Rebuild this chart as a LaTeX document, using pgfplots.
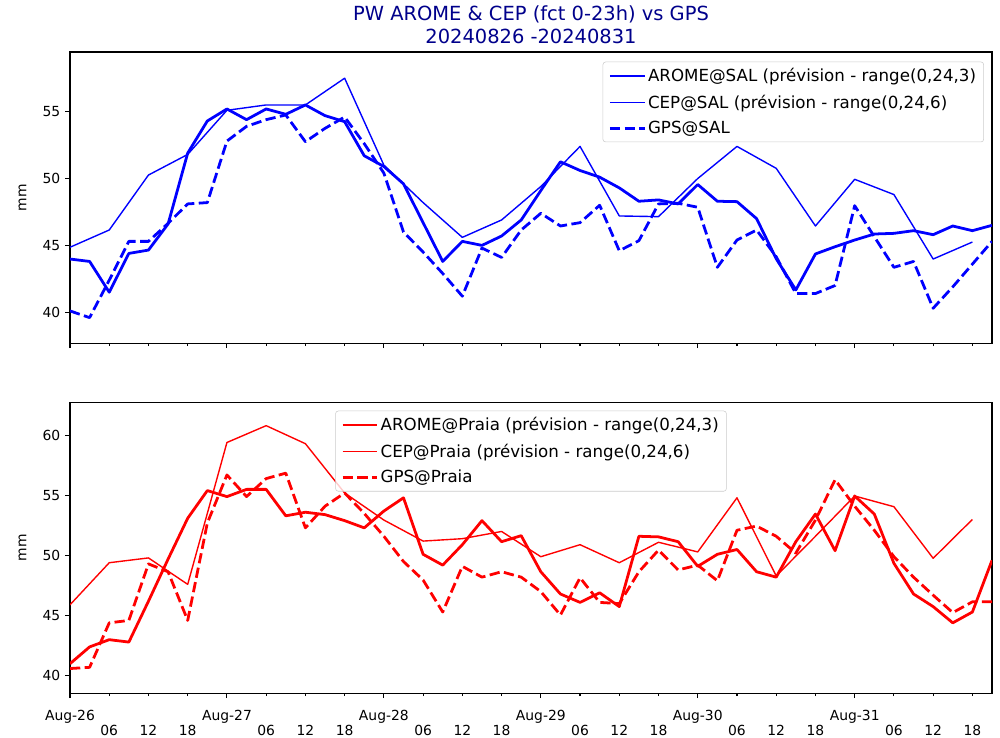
\documentclass[border=0pt]{standalone}
\usepackage{fontspec}
\setmainfont{DejaVu Sans}
\usepackage{pgfplots}
\pgfplotsset{compat=1.18}
\definecolor{titleblue}{RGB}{0,0,139}
\pgfplotsset{
  mpl/.style={
    scale only axis, width=663.84pt,
    xmin=0, xmax=141,
    axis line style={line width=0.8pt},
    tick align=outside, xtick pos=bottom, ytick pos=left,
    every tick/.style={black, line width=0.8pt},
    major tick length=3.5pt,
    /pgf/number format/assume math mode=true,
    tick label style={font=\fontsize{10}{12}\selectfont},
    xtick={0,24,48,72,96,120},
    extra x ticks={6,12,18,30,36,42,54,60,66,78,84,90,102,108,114,126,132,138},
    extra x tick style={major tick length=2pt},
    ylabel={mm},
    ylabel style={at={(axis description cs:-0.0515,0.5)}, anchor=center, font=\fontsize{10}{12}\selectfont},
    legend cell align=left,
    legend style={draw=black!20, rounded corners=2pt, fill=white, fill opacity=0.8, text opacity=1,
      font=\fontsize{12}{14}\selectfont, inner xsep=4pt, inner ysep=3pt, row sep=5pt, nodes={inner sep=1.5pt}},
    legend image code/.code={\draw[#1] (0pt,0pt) -- (25pt,0pt);},
  },
  arome/.style={line width=2pt, line join=round},
  cep/.style={line width=1pt, line join=round},
  gps/.style={line width=2pt, line join=round, dash pattern=on 7.4pt off 3.2pt},
}
\begin{document}
\begin{tikzpicture}
\useasboundingbox (0,0) rectangle (720pt,531.36pt);
\begin{axis}[mpl, at={(50.4pt,284.18pt)}, anchor=south west, height=209.74pt,
  ymin=37.68, ymax=59.46, ytick={40,45,50,55},
  xticklabels={}, extra x tick labels={},
  title={PW AROME \& CEP (fct 0-23h) vs GPS\\20240826 -20240831},
  title style={align=center, font=\fontsize{14}{16}\selectfont, text=titleblue, inner sep=0pt,
    at={(axis description cs:0.5,1)}, anchor=south, yshift=0pt},
  legend style={at={(0.9913,0.9667)}, anchor=north east}]
\addplot[blue, arome] coordinates {
(0,43.98)(3,43.8)(6,41.5)(9,44.4)(12,44.65)(15,46.6)(18,51.9)(21,54.3)(24,55.2)(27,54.4)
(30,55.2)(33,54.8)(36,55.5)(39,54.7)(42,54.25)(45,51.7)(48,50.9)(51,49.6)(54,46.7)(57,43.8)
(60,45.3)(63,45.0)(66,45.7)(69,46.9)(72,49.1)(75,51.25)(78,50.6)(81,50.1)(84,49.3)(87,48.3)
(90,48.4)(93,48.1)(96,49.55)(99,48.3)(102,48.27)(105,47.0)(108,44.0)(111,41.67)(114,44.36)(117,44.9)
(120,45.4)(123,45.85)(126,45.9)(129,46.1)(132,45.8)(135,46.45)(138,46.1)(141,46.5)};
\addlegendentry{AROME@SAL (prévision - range(0,24,3)}
\addplot[blue, cep] coordinates {
(0,44.86)(6,46.15)(12,50.26)(18,51.8)(24,55.1)(30,55.5)(36,55.5)(42,57.5)(48,51.0)(54,48.2)
(60,45.6)(66,46.9)(72,49.4)(78,52.4)(84,47.2)(90,47.15)(96,50.0)(102,52.4)(108,50.76)(114,46.45)
(120,49.94)(126,48.8)(132,43.98)(138,45.25)};
\addlegendentry{CEP@SAL (prévision - range(0,24,6)}
\addplot[blue, gps] coordinates {
(0,40.1)(3,39.6)(6,42.4)(9,45.3)(12,45.3)(15,46.65)(18,48.1)(21,48.2)(24,52.8)(27,53.9)
(30,54.4)(33,54.75)(36,52.75)(39,53.75)(42,54.6)(45,52.6)(48,50.4)(51,46.0)(54,44.5)(57,42.9)
(60,41.2)(63,44.8)(66,44.1)(69,46.15)(72,47.4)(75,46.45)(78,46.7)(81,48.0)(84,44.6)(87,45.35)
(90,48.1)(93,48.15)(96,47.85)(99,43.36)(102,45.4)(105,46.15)(108,44.15)(111,41.4)(114,41.4)(117,42.0)
(120,47.97)(123,45.65)(126,43.36)(129,43.8)(132,40.3)(135,41.9)(138,43.6)(141,45.3)};
\addlegendentry{GPS@SAL}
\end{axis}
\begin{axis}[mpl, at={(50.4pt,32.18pt)}, anchor=south west, height=209.23pt,
  ymin=38.54, ymax=62.71, ytick={40,45,50,55,60},
  xticklabels={Aug-26,Aug-27,Aug-28,Aug-29,Aug-30,Aug-31},
  xticklabel style={yshift=-5pt},
  extra x tick labels={06,12,18,06,12,18,06,12,18,06,12,18,06,12,18,06,12,18},
  extra x tick style={major tick length=2pt, xticklabel style={yshift=-14.9pt, inner sep=1pt}},
  legend style={at={(0.5,0.9725)}, anchor=north}]
\addplot[red, arome] coordinates {
(0,41.0)(3,42.4)(6,43.0)(9,42.8)(12,46.2)(15,49.7)(18,53.1)(21,55.4)(24,54.9)(27,55.5)
(30,55.5)(33,53.3)(36,53.6)(39,53.4)(42,52.9)(45,52.3)(48,53.7)(51,54.8)(54,50.1)(57,49.2)
(60,50.9)(63,52.9)(66,51.15)(69,51.65)(72,48.65)(75,46.8)(78,46.1)(81,46.9)(84,45.75)(87,51.6)
(90,51.55)(93,51.15)(96,49.1)(99,50.1)(102,50.5)(105,48.65)(108,48.2)(111,51.15)(114,53.45)(117,50.4)
(120,54.95)(123,53.45)(126,49.35)(129,46.8)(132,45.75)(135,44.4)(138,45.3)(141,49.6)};
\addlegendentry{AROME@Praia (prévision - range(0,24,3)}
\addplot[red, cep] coordinates {
(0,45.9)(6,49.4)(12,49.8)(18,47.6)(24,59.4)(30,60.8)(36,59.3)(42,55.2)(48,52.95)(54,51.2)
(60,51.4)(66,52.0)(72,49.9)(78,50.9)(84,49.4)(90,51.1)(96,50.3)(102,54.8)(108,48.3)(114,51.6)
(120,54.95)(126,54.06)(132,49.77)(138,53.0)};
\addlegendentry{CEP@Praia (prévision - range(0,24,6)}
\addplot[red, gps] coordinates {
(0,40.6)(3,40.7)(6,44.4)(9,44.6)(12,49.3)(15,48.65)(18,44.6)(21,52.7)(24,56.7)(27,54.9)
(30,56.4)(33,56.85)(36,52.3)(39,54.1)(42,55.2)(45,53.5)(48,51.6)(51,49.5)(54,47.96)(57,45.3)
(60,49.1)(63,48.2)(66,48.65)(69,48.2)(72,47.0)(75,45.05)(78,48.15)(81,46.1)(84,46.0)(87,48.65)
(90,50.45)(93,48.8)(96,49.2)(99,47.9)(102,52.1)(105,52.45)(108,51.6)(111,50.2)(114,52.95)(117,56.3)
(120,54.1)(123,52.1)(126,49.9)(129,48.2)(132,46.7)(135,45.25)(138,46.15)(141,46.15)};
\addlegendentry{GPS@Praia}
\end{axis}
\end{tikzpicture}
\end{document}
